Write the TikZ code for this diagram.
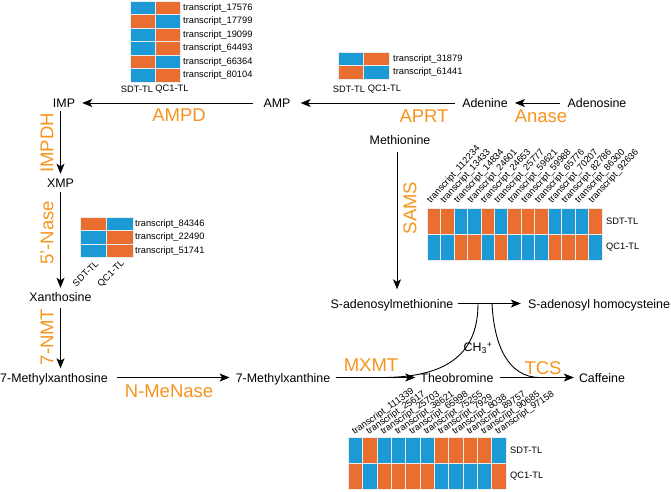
\documentclass[tikz,border=0pt]{standalone}
\usepackage{fontspec}
\setmainfont{Liberation Sans}
\usetikzlibrary{arrows.meta,calc}
\definecolor{hB}{RGB}{27,154,214}
\definecolor{hO}{RGB}{234,110,48}
\definecolor{enz}{RGB}{247,148,30}
\begin{document}
\begin{tikzpicture}[x=1pt,y=-1pt,
  met/.style={inner sep=0pt, text height=9pt, text depth=0pt, font=\fontsize{12.4}{14}\selectfont},
  enzlab/.style={inner sep=0pt, text=enz, font=\fontsize{18.5}{20}\selectfont},
  hm/.style={inner sep=0pt, font=\fontsize{9.3}{11}\selectfont},
  arr/.style={-{Stealth[length=10pt,width=8pt,inset=2.5pt]}, line width=0.9pt},
  link/.style={line width=0.9pt},
  cell/.style={draw=white!85!gray, line width=0.6pt}]
\useasboundingbox (0,0) rectangle (671,491);

% metabolites
\node[met] (IMP) at (64,103) {IMP};
\node[met] (AMP) at (277,103) {AMP};
\node[met] (Ade) at (485,103) {Adenine};
\node[met] (Ados) at (597,103) {Adenosine};
\node[met] (Met) at (400,140) {Methionine};
\node[met] (XMP) at (60.5,183) {XMP};
\node[met] (Xao) at (60.5,297) {Xanthosine};
\node[met] (mxo) at (54,377.5) {7-Methylxanthosine};
\node[met] (mxi) at (283,377.5) {7-Methylxanthine};
\node[met] (SAM) at (392,303.5) {S-adenosylmethionine};
\node[met] (SAH) at (599,303.5) {S-adenosyl homocysteine};
\node[met] (Theo) at (457,377.5) {Theobromine};
\node[met] (Caf) at (602,377.5) {Caffeine};

% arrows
\draw[arr, shorten <=10pt, shorten >=7pt] (AMP) -- (IMP);
\draw[arr, shorten <=7pt, shorten >=10pt] (Ade) -- (AMP);
\draw[arr, shorten <=8pt, shorten >=7pt] (Ados) -- (Ade);
\draw[arr, shorten <=3.5pt, shorten >=4.5pt] (IMP.south -| XMP.north) -- (XMP.north);
\draw[arr, shorten <=4.5pt, shorten >=4.5pt] (XMP) -- (Xao);
\draw[arr, shorten <=6.5pt, shorten >=4.5pt] (Xao.south) -- (Xao.south |- mxo.north);
\draw[arr, shorten <=9pt, shorten >=6pt] (mxo) -- (mxi);
\draw[arr, shorten <=6pt, shorten >=5pt] (mxi) -- (Theo);
\draw[arr, shorten <=6pt, shorten >=5pt] (Theo) -- (Caf);
\draw[arr, shorten <=4pt, shorten >=7pt] (SAM) -- (SAH);
\coordinate (mtop) at ($(Met.south)+(-3,0)$);
\draw[arr, shorten <=7.5pt, shorten >=9.5pt] (mtop) -- (mtop |- SAM.north);

% methyl transfer curves
\coordinate (c1s) at (478,303.5);
\coordinate (c1e) at (382,377.5);
\coordinate (c2s) at (492,303.5);
\coordinate (c2e) at (540,377.5);
\draw[link] (c1s) .. controls (478,350) and (452,377.5) .. (c1e);
\draw[link] (c2s) .. controls (494,345) and (508,377.5) .. (c2e);
\node[met] (CH3) at (478,347) {CH\textsubscript{3}\textsuperscript{+}};

% enzymes
\node[enzlab] (AMPD) at (179,115) {AMPD};
\node[enzlab] (APRT) at (424,116) {APRT};
\node[enzlab] (Anase) at (541,116) {Anase};
\node[enzlab, rotate=90] (IMPDH) at (47,143) {IMPDH};
\node[enzlab, rotate=90] (Nase5) at (47,233) {5'-Nase};
\node[enzlab, rotate=90] (NMT) at (47,337) {7-NMT};
\node[enzlab, rotate=90] (SAMS) at (410,208) {SAMS};
\node[enzlab] (NMeNase) at (169,391) {N-MeNase};
\node[enzlab] (MXMT) at (371,365) {MXMT};
\node[enzlab] (TCS) at (543,368) {TCS};

% AMPD heatmap
\foreach \a/\b/\t [count=\i] in {hB/hO/17576,hO/hB/17799,hB/hO/19099,hB/hO/64493,hO/hB/66364,hB/hO/80104}{
  \filldraw[cell, fill=\a] (130,{1+(\i-1)*13.5}) rectangle ++(25,13.5);
  \filldraw[cell, fill=\b] (155,{1+(\i-1)*13.5}) rectangle ++(25,13.5);
  \node[hm, anchor=west] (ta\i) at (183,{1+(\i-0.5)*13.5}) {transcript\_\t};
}
\node[hm] (aS) at (137,89) {SDT-TL};
\node[hm] (aQ) at (172,89) {QC1-TL};

% APRT heatmap
\foreach \a/\b/\t [count=\i] in {hB/hO/31879,hO/hB/61441}{
  \filldraw[cell, fill=\a] (338,{52+(\i-1)*13.5}) rectangle ++(25.5,13.5);
  \filldraw[cell, fill=\b] (363.5,{52+(\i-1)*13.5}) rectangle ++(25.5,13.5);
  \node[hm, anchor=west] (tb\i) at (393,{52+(\i-0.5)*13.5}) {transcript\_\t};
}
\node[hm] (bS) at (349,89) {SDT-TL};
\node[hm] (bQ) at (384.5,89) {QC1-TL};

% 5'-Nase heatmap
\foreach \a/\b/\t [count=\i] in {hO/hB/84346,hB/hO/22490,hB/hO/51741}{
  \filldraw[cell, fill=\a] (80,{217+(\i-1)*13.5}) rectangle ++(26.5,13.5);
  \filldraw[cell, fill=\b] (106.5,{217+(\i-1)*13.5}) rectangle ++(26.5,13.5);
  \node[hm, anchor=west] (tc\i) at (135,{217+(\i-0.5)*13.5}) {transcript\_\t};
}
\node[hm, rotate=45, anchor=east] (cS) at (97,262) {SDT-TL};
\node[hm, rotate=45, anchor=east] (cQ) at (123,262) {QC1-TL};

% SAMS heatmap
\foreach \n/\a/\b [count=\i] in {112234/hO/hB,13433/hO/hB,14834/hB/hO,24601/hB/hO,24653/hO/hB,25777/hB/hO,59621/hO/hB,59988/hO/hB,65776/hO/hB,70207/hB/hO,82786/hB/hO,86300/hB/hO,92636/hO/hB}{
  \filldraw[cell, fill=\a] ({427+(\i-1)*13.46},208) rectangle ++(13.46,26);
  \filldraw[cell, fill=\b] ({427+(\i-1)*13.46},234) rectangle ++(13.46,26);
  \node[hm, rotate=48, anchor=base west] (td\i) at ({427+(\i-0.5)*13.46-3},204) {transcript\_\n};
}
\node[hm, anchor=west] (dS) at (606,221) {SDT-TL};
\node[hm, anchor=west] (dQ) at (606,247) {QC1-TL};

% MXMT/TCS heatmap
\foreach \n/\a/\b [count=\i] in {111339/hB/hO,25617/hO/hB,25703/hB/hO,38621/hB/hO,65998/hB/hO,75255/hB/hO,7929/hO/hB,8038/hO/hB,89757/hO/hB,90685/hO/hB,97158/hB/hO}{
  \filldraw[cell, fill=\a] ({348.3+(\i-1)*14.33},437) rectangle ++(14.33,26);
  \filldraw[cell, fill=\b] ({348.3+(\i-1)*14.33},463) rectangle ++(14.33,26);
  \node[hm, rotate=35, anchor=base west] (te\i) at ({348.3+(\i-0.5)*14.33-1},435) {transcript\_\n};
}
\node[hm, anchor=west] (eS) at (510,450) {SDT-TL};
\node[hm, anchor=west] (eQ) at (510,476) {QC1-TL};
\end{tikzpicture}
\end{document}
